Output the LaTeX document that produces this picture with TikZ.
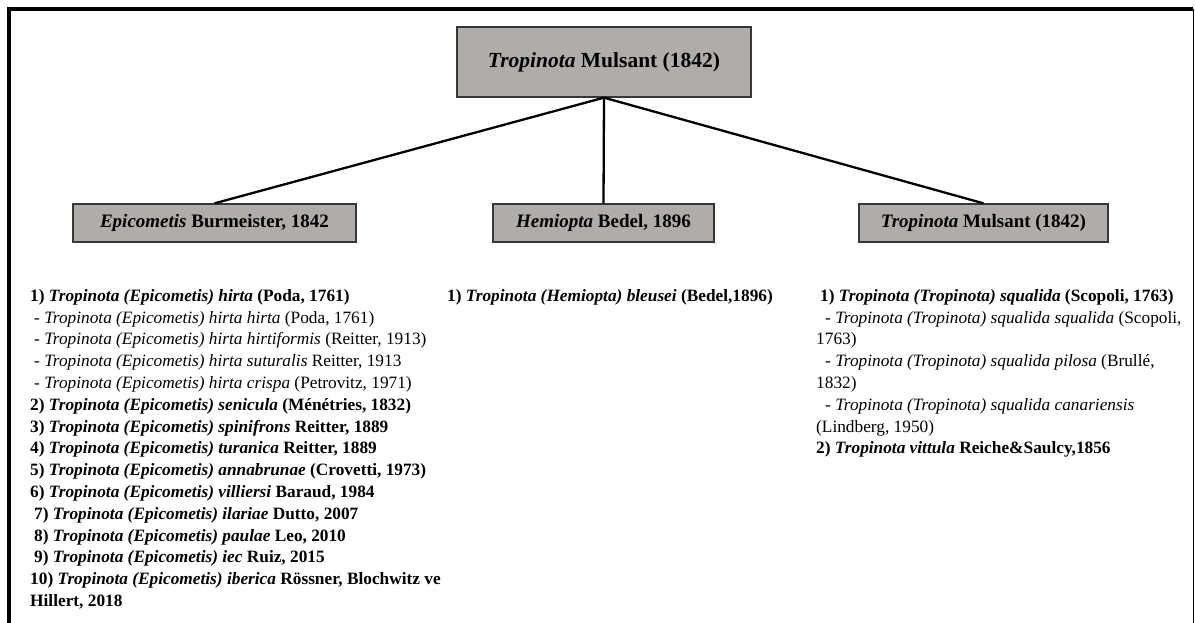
\documentclass[tikz,border=0pt]{standalone}
\usepackage{fontspec}
\setmainfont{Liberation Serif}
\usetikzlibrary{positioning}
\definecolor{boxgray}{RGB}{176,172,170}
\definecolor{boxedge}{RGB}{55,55,55}
\tikzset{
  taxbox/.style={draw=boxedge, line width=1.3pt, fill=boxgray, inner sep=0pt, font=\bfseries\fontsize{19}{22}\selectfont},
  branch/.style={line width=2.3pt},
  taxlist/.style={anchor=north west, inner sep=0pt, align=left, font=\fontsize{17.3}{21.8}\selectfont}
}

\begin{document}
\begin{tikzpicture}[x=1pt,y=-1pt]
			%%%%% START %%%%%
			
			\useasboundingbox (0,0) rectangle (1195,623);
			\fill[white] (0,0) rectangle (1195,623);
			\draw[line width=4pt] (9,623) -- (9,9) -- (1193,9);
			\draw[line width=1.5pt] (1193.5,9) -- (1193.5,623);
			
			\node[taxbox, minimum width=294pt, minimum height=70pt, font=\bfseries\fontsize{21.5}{24}\selectfont] (genus) at (604,62) {\textit{Tropinota} Mulsant (1842)};
			
			\node[taxbox, minimum width=283pt, minimum height=38pt] (epi) at (214.5,223) {\textit{Epicometis} Burmeister, 1842};
			\node[taxbox, minimum width=221pt, minimum height=38pt] (hemi) at (603.5,223) {\textit{Hemiopta} Bedel, 1896};
			\node[taxbox, minimum width=249pt, minimum height=38pt] (trop) at (983.5,223) {\textit{Tropinota} Mulsant (1842)};
			
			\draw[branch] (genus.south) -- (epi.north);
			\draw[branch] (genus.south) -- (hemi.north);
			\draw[branch] (genus.south) -- (trop.north);
			
			\node[taxlist] (epilist) at (30,289) {%
				\textbf{1) \textit{Tropinota (Epicometis) hirta} (Poda, 1761)}\\
				\hspace*{4pt}- \textit{Tropinota (Epicometis) hirta hirta} (Poda, 1761)\\
				\hspace*{4pt}- \textit{Tropinota (Epicometis) hirta hirtiformis} (Reitter, 1913)\\
				\hspace*{4pt}- \textit{Tropinota (Epicometis) hirta suturalis} Reitter, 1913\\
				\hspace*{4pt}- \textit{Tropinota (Epicometis) hirta crispa} (Petrovitz, 1971)\\
				\textbf{2) \textit{Tropinota (Epicometis) senicula} (Ménétries, 1832)}\\
				\textbf{3) \textit{Tropinota (Epicometis) spinifrons} Reitter, 1889}\\
				\textbf{4) \textit{Tropinota (Epicometis) turanica} Reitter, 1889}\\
				\textbf{5) \textit{Tropinota (Epicometis) annabrunae} (Crovetti, 1973)}\\
				\textbf{6) \textit{Tropinota (Epicometis) villiersi} Baraud, 1984}\\
				\hspace*{4pt}\textbf{7) \textit{Tropinota (Epicometis) ilariae} Dutto, 2007}\\
				\hspace*{4pt}\textbf{8) \textit{Tropinota (Epicometis) paulae} Leo, 2010}\\
				\hspace*{4pt}\textbf{9) \textit{Tropinota (Epicometis) iec} Ruiz, 2015}\\
				\textbf{10) \textit{Tropinota (Epicometis) iberica} Rössner, Blochwitz ve}\\
				\textbf{Hillert, 2018}};
			
			\node[taxlist] (hemilist) at (447,289) {%
				\textbf{1) \textit{Tropinota (Hemiopta) bleusei} (Bedel,1896)}};
			
			\node[taxlist] (troplist) at (816,289) {%
				\hspace*{4pt}\textbf{1) \textit{Tropinota (Tropinota) squalida} (Scopoli, 1763)}\\
				\hspace*{9pt}- \textit{Tropinota (Tropinota) squalida squalida} (Scopoli,\\
				1763)\\
				\hspace*{9pt}- \textit{Tropinota (Tropinota) squalida pilosa} (Brullé,\\
				1832)\\
				\hspace*{9pt}- \textit{Tropinota (Tropinota) squalida canariensis}\\
				(Lindberg, 1950)\\
				\textbf{2) \textit{Tropinota vittula} Reiche\&Saulcy,1856}};
			
			%%%%% END %%%%%
\end{tikzpicture}
\end{document}
